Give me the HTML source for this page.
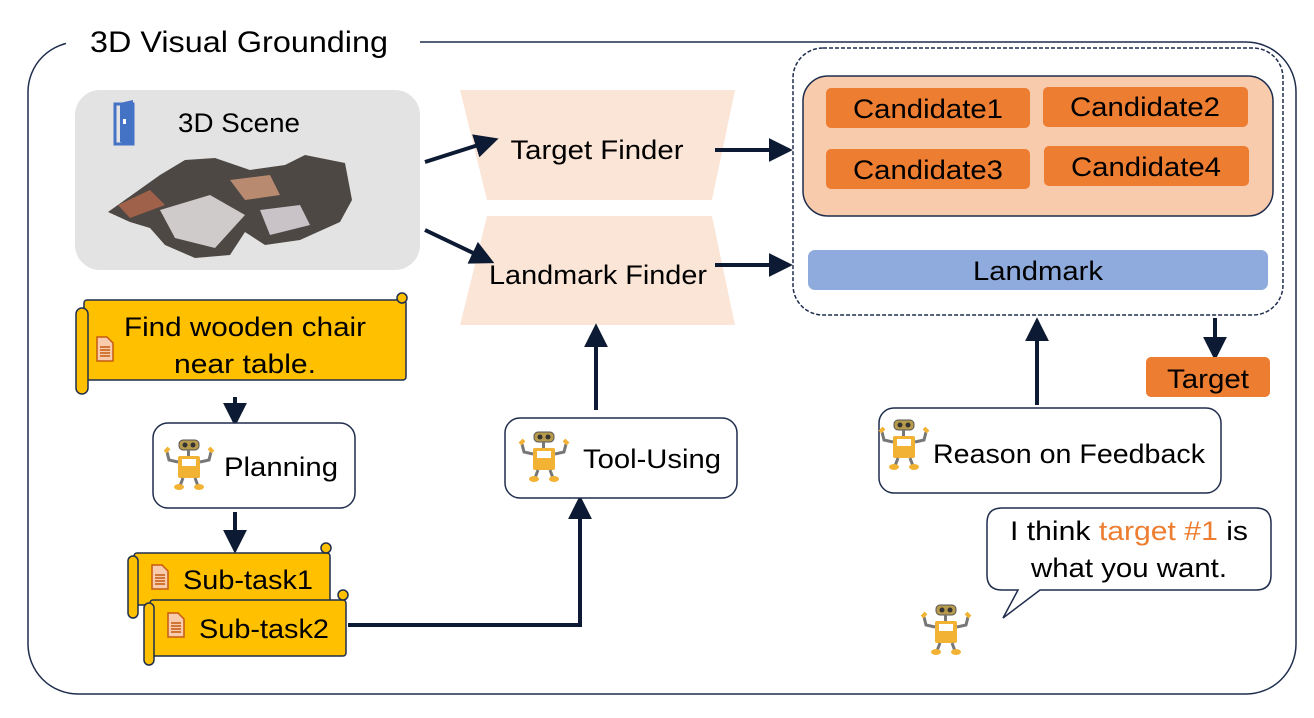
<!DOCTYPE html>
<html><head><meta charset="utf-8"><style>
html,body{margin:0;padding:0;background:#fff;}
svg{display:block;font-family:"Liberation Sans",sans-serif;}
</style></head><body>
<svg width="1314" height="718" viewBox="0 0 1314 718" xmlns="http://www.w3.org/2000/svg">
<defs>
<marker id="ah" viewBox="0 0 10 10" refX="8" refY="5" markerWidth="6" markerHeight="6" orient="auto-start-reverse" markerUnits="strokeWidth">
<path d="M0,0 L10,5 L0,10 z" fill="#0d1a33"/></marker>
<g id="robot">
<rect x="14" y="0" width="20" height="10" rx="4" fill="#b89a4c" stroke="#555" stroke-width="1"/>
<circle cx="20" cy="5" r="2.5" fill="#333"/><circle cx="28" cy="5" r="2.5" fill="#333"/>
<rect x="22" y="10" width="3" height="6" fill="#777"/>
<rect x="13" y="16" width="22" height="22" rx="2" fill="#f2b233"/>
<rect x="17" y="19" width="14" height="7" fill="#fff"/>
<path d="M13,22 L4,20 L2,12 M35,22 L44,20 L46,12" stroke="#777" stroke-width="3" fill="none"/>
<path d="M0,12 l4,-4 M44,8 l4,4" stroke="#f2b233" stroke-width="4"/>
<path d="M18,38 l-3,8 M30,38 l3,8" stroke="#777" stroke-width="3"/>
<ellipse cx="14" cy="47" rx="5" ry="3" fill="#f2b233"/><ellipse cx="34" cy="47" rx="5" ry="3" fill="#f2b233"/>
</g>
<g id="doc">
<path d="M0,0 h10 l6,6 v18 h-16 z" fill="#f8cbad" stroke="#c55a11" stroke-width="1.5"/>
<path d="M3,10 h10 M3,13 h10 M3,16 h10 M3,19 h10" stroke="#c55a11" stroke-width="1.5"/>
</g>
</defs>

<rect x="28" y="42" width="1268" height="652" rx="50" fill="none" stroke="#1f2d4d" stroke-width="1.5"/>
<rect x="66" y="28" width="354" height="30" fill="#fff"/>
<text x="90" y="52" font-size="30" fill="#000" textLength="298" lengthAdjust="spacingAndGlyphs">3D Visual Grounding</text>

<rect x="75" y="90" width="345" height="180" rx="25" fill="#e3e3e3"/>
<path d="M115,104 h18 v40 h-18 z" fill="none" stroke="#4472c4" stroke-width="3"/>
<path d="M120,103 l13,-3 v45 l-13,-3 z" fill="#4472c4"/>
<rect x="123" y="119" width="3" height="5" fill="#fff"/>
<text x="178" y="132" font-size="27" fill="#000" textLength="122" lengthAdjust="spacingAndGlyphs">3D Scene</text>
<path d="M108,212 L160,175 L185,160 L215,158 L250,170 L285,165 L305,155 L345,163 L352,200 L340,222 L300,240 L265,245 L245,232 L230,255 L195,258 L165,245 L150,228 L130,222 Z" fill="#4d4843"/>
<path d="M160,210 L210,195 L245,215 L215,248 L175,238 Z" fill="#cfcbcb"/>
<path d="M118,205 L150,190 L165,205 L130,218 Z" fill="#a0614a"/>
<path d="M230,180 L270,175 L280,195 L245,200 Z" fill="#b88b70"/>
<path d="M260,210 L300,205 L310,225 L270,235 Z" fill="#c9c3c8"/>

<polygon points="460,90 735,90 712,200 487,200" fill="#fbe5d6"/>
<text x="597" y="159" font-size="27" text-anchor="middle" textLength="173" lengthAdjust="spacingAndGlyphs">Target Finder</text>
<polygon points="487,216 712,216 735,325 460,325" fill="#fbe5d6"/>
<text x="598" y="284" font-size="27" text-anchor="middle" textLength="218" lengthAdjust="spacingAndGlyphs">Landmark Finder</text>

<g stroke="#0d1a33" stroke-width="4" fill="none" marker-end="url(#ah)">
<line x1="425" y1="162" x2="494" y2="140"/>
<line x1="425" y1="230" x2="490" y2="261"/>
<line x1="715" y1="150" x2="788" y2="150"/>
<line x1="715" y1="265" x2="788" y2="265"/>
<line x1="1215" y1="318" x2="1215" y2="356"/>
<line x1="1037" y1="405" x2="1037" y2="322"/>
<line x1="596" y1="410" x2="596" y2="328"/>
<line x1="235" y1="397" x2="235" y2="422"/>
<line x1="235" y1="512" x2="235" y2="549"/>
<polyline points="348,625 580,625 580,500"/>
</g>

<rect x="793" y="48" width="490" height="267" rx="30" fill="none" stroke="#1f2d4d" stroke-width="1.5" stroke-dasharray="4,2"/>
<rect x="803" y="76" width="470" height="140" rx="25" fill="#f8cbad" stroke="#1f2d4d" stroke-width="1.5"/>
<g fill="#ed7d31">
<rect x="826" y="88" width="204" height="40" rx="5"/>
<rect x="1043" y="87" width="205" height="40" rx="5"/>
<rect x="826" y="149" width="204" height="40" rx="5"/>
<rect x="1044" y="146" width="205" height="40" rx="5"/>
</g>
<g font-size="27" text-anchor="middle" lengthAdjust="spacingAndGlyphs">
<text x="928" y="118" textLength="150" lengthAdjust="spacingAndGlyphs">Candidate1</text>
<text x="1145" y="116" textLength="150" lengthAdjust="spacingAndGlyphs">Candidate2</text>
<text x="928" y="179" textLength="150" lengthAdjust="spacingAndGlyphs">Candidate3</text>
<text x="1146" y="176" textLength="150" lengthAdjust="spacingAndGlyphs">Candidate4</text>
</g>
<rect x="808" y="250" width="460" height="40" rx="7" fill="#8faadc"/>
<text x="1038" y="280" font-size="27" text-anchor="middle" textLength="130" lengthAdjust="spacingAndGlyphs">Landmark</text>
<rect x="1146" y="357" width="124" height="40" rx="5" fill="#ed7d31"/>
<text x="1208" y="388" font-size="27" text-anchor="middle" textLength="82" lengthAdjust="spacingAndGlyphs">Target</text>

<rect x="879" y="408" width="342" height="85" rx="15" fill="#fff" stroke="#1f2d4d" stroke-width="1.5"/>
<use href="#robot" x="880" y="420"/>
<text x="933" y="463" font-size="27" textLength="272" lengthAdjust="spacingAndGlyphs">Reason on Feedback</text>

<path d="M1002,508 H1256 Q1271,508 1271,523 V575 Q1271,590 1256,590 H1040 L1003,618 L1018,590 H1002 Q987,590 987,575 V523 Q987,508 1002,508 Z" fill="#fff" stroke="#1f2d4d" stroke-width="1.5"/>
<text x="1129" y="540" font-size="27" text-anchor="middle" textLength="238" lengthAdjust="spacingAndGlyphs"><tspan>I think </tspan><tspan fill="#ed7d31">target #1</tspan><tspan> is</tspan></text>
<text x="1129" y="577" font-size="27" text-anchor="middle" textLength="196" lengthAdjust="spacingAndGlyphs">what you want.</text>
<use href="#robot" x="922" y="605"/>

<rect x="505" y="418" width="232" height="80" rx="15" fill="#fff" stroke="#1f2d4d" stroke-width="1.5"/>
<use href="#robot" x="520" y="432"/>
<text x="583" y="468" font-size="27" textLength="138" lengthAdjust="spacingAndGlyphs">Tool-Using</text>

<rect x="84" y="300" width="322" height="80" rx="3" fill="#ffc000" stroke="#1f2d4d" stroke-width="1.5"/>
<rect x="76" y="308" width="12" height="86" rx="6" fill="#ffc000" stroke="#1f2d4d" stroke-width="1.5"/>
<circle cx="402" cy="298" r="5" fill="#ffc000" stroke="#1f2d4d" stroke-width="1.5"/>
<use href="#doc" x="97" y="337"/>
<text x="245" y="336" font-size="27" text-anchor="middle" textLength="242" lengthAdjust="spacingAndGlyphs">Find wooden chair</text>
<text x="245" y="373" font-size="27" text-anchor="middle" textLength="142" lengthAdjust="spacingAndGlyphs">near table.</text>

<rect x="153" y="423" width="202" height="85" rx="15" fill="#fff" stroke="#1f2d4d" stroke-width="1.5"/>
<use href="#robot" x="165" y="440"/>
<text x="224" y="476" font-size="27" textLength="114" lengthAdjust="spacingAndGlyphs">Planning</text>

<rect x="134" y="553" width="196" height="52" rx="3" fill="#ffc000" stroke="#1f2d4d" stroke-width="1.5"/>
<rect x="128" y="556" width="10" height="62" rx="5" fill="#ffc000" stroke="#1f2d4d" stroke-width="1.5"/>
<circle cx="326" cy="548" r="5" fill="#ffc000" stroke="#1f2d4d" stroke-width="1.5"/>
<use href="#doc" x="152" y="565"/>
<text x="183" y="589" font-size="27" textLength="130" lengthAdjust="spacingAndGlyphs">Sub-task1</text>
<rect x="150" y="600" width="196" height="56" rx="3" fill="#ffc000" stroke="#1f2d4d" stroke-width="1.5"/>
<rect x="144" y="603" width="10" height="62" rx="5" fill="#ffc000" stroke="#1f2d4d" stroke-width="1.5"/>
<circle cx="343" cy="595" r="5" fill="#ffc000" stroke="#1f2d4d" stroke-width="1.5"/>
<use href="#doc" x="168" y="613"/>
<text x="199" y="638" font-size="27" textLength="130" lengthAdjust="spacingAndGlyphs">Sub-task2</text>
</svg>
</body></html>
